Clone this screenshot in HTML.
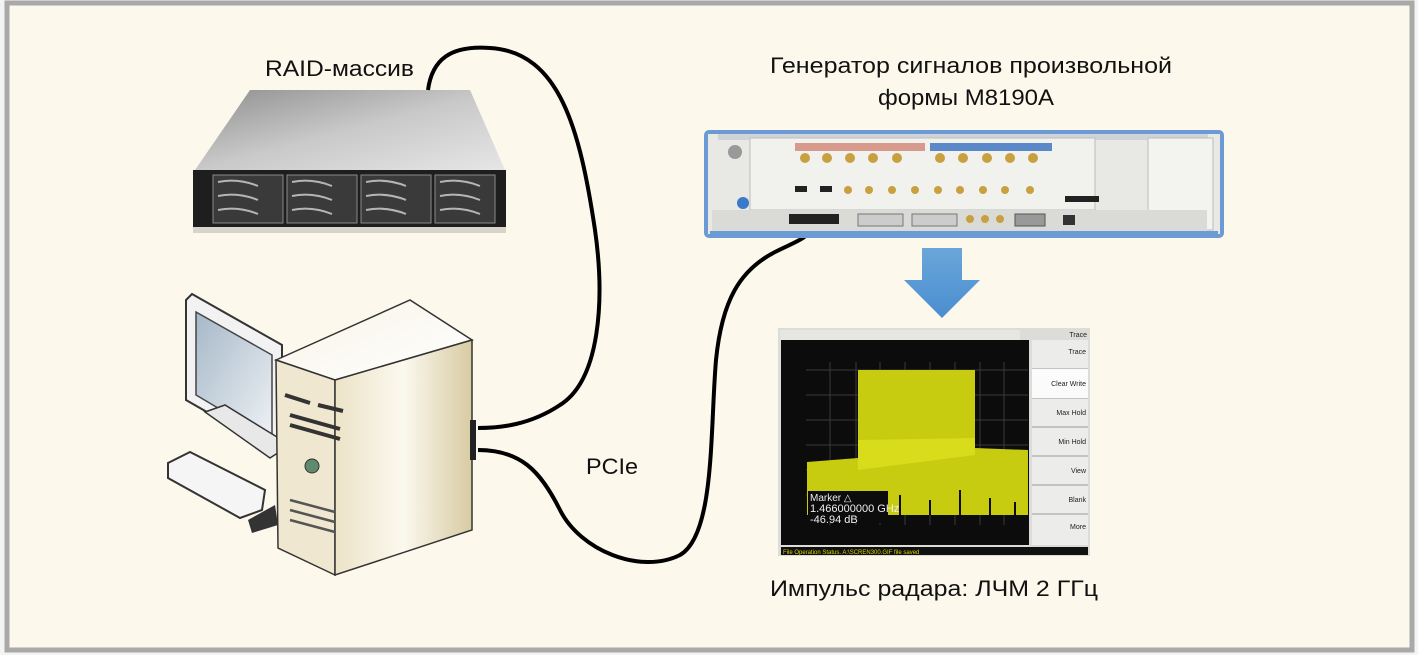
<!DOCTYPE html>
<html><head><meta charset="utf-8"><style>
html,body{margin:0;padding:0;background:#fff;}
svg{display:block;}
text{font-family:"Liberation Sans Narrow","Liberation Sans","DejaVu Sans",sans-serif;}
</style></head><body>
<svg width="1418" height="655" viewBox="0 0 1418 655" xmlns="http://www.w3.org/2000/svg">
<defs>
<linearGradient id="raidTop" x1="0" y1="0" x2="1" y2="1"><stop offset="0" stop-color="#8f8f8f"/><stop offset="0.5" stop-color="#c9c9c9"/><stop offset="1" stop-color="#e6e6e6"/></linearGradient>
<linearGradient id="tower" x1="0" y1="0" x2="1" y2="0"><stop offset="0" stop-color="#ece3c8"/><stop offset="0.5" stop-color="#fbf8ee"/><stop offset="1" stop-color="#d8cba3"/></linearGradient>
<linearGradient id="towerTop" x1="0" y1="0" x2="1" y2="1"><stop offset="0" stop-color="#f7f3e6"/><stop offset="1" stop-color="#ffffff"/></linearGradient>
<linearGradient id="arrow" x1="0" y1="0" x2="0" y2="1"><stop offset="0" stop-color="#6aa6d9"/><stop offset="1" stop-color="#4a8dd0"/></linearGradient>
<linearGradient id="scr" x1="0" y1="0" x2="1" y2="1"><stop offset="0" stop-color="#a6b8c8"/><stop offset="1" stop-color="#eef2f5"/></linearGradient>
</defs>
<rect x="0" y="0" width="1418" height="655" fill="#f4f4f4"/>
<rect x="7" y="3" width="1405" height="647" fill="#fdf8ec" stroke="#a9a9a9" stroke-width="5"/>

<!-- RAID -->
<polygon points="250,90 470,90 505,170 195,170" fill="url(#raidTop)"/>
<rect x="193" y="170" width="313" height="58" fill="#1e1e1e"/>
<rect x="193" y="227" width="313" height="6" fill="#d8d4ca"/>
<g fill="#3a3a3a" stroke="#8a8a8a" stroke-width="1">
<rect x="213" y="175" width="70" height="48"/><rect x="287" y="175" width="70" height="48"/>
<rect x="361" y="175" width="70" height="48"/><rect x="435" y="175" width="60" height="48"/>
</g>
<g stroke="#b5b5b5" stroke-width="2" fill="none">
<path d="M218 182 q20 -4 40 4"/><path d="M218 196 q20 -4 40 4"/><path d="M218 210 q20 -4 40 4"/>
<path d="M292 182 q20 -4 40 4"/><path d="M292 196 q20 -4 40 4"/><path d="M292 210 q20 -4 40 4"/>
<path d="M366 182 q20 -4 40 4"/><path d="M366 196 q20 -4 40 4"/><path d="M366 210 q20 -4 40 4"/>
<path d="M440 182 q20 -4 40 4"/><path d="M440 196 q20 -4 40 4"/><path d="M440 210 q20 -4 40 4"/>
</g>

<!-- cables -->
<path d="M428 90 C432 60 450 45 490 48 C560 52 580 130 595 230 C605 300 600 380 560 405 C530 425 500 428 478 428" fill="none" stroke="#000" stroke-width="4"/>
<path d="M478 450 C520 450 540 470 560 510 C580 550 640 575 680 555 C715 535 710 430 716 360 C722 300 740 270 775 252 C795 242 808 238 812 228" fill="none" stroke="#000" stroke-width="4"/>

<!-- monitor -->
<polygon points="186,300 192,294 282,345 282,455 186,400" fill="#f2f2f2" stroke="#333" stroke-width="2"/>
<polygon points="196,312 272,355 272,440 196,395" fill="url(#scr)" stroke="#444" stroke-width="1.5"/>
<polygon points="205,412 225,405 290,445 270,458" fill="#e8e8e8" stroke="#333" stroke-width="1.5"/>
<polygon points="168,463 190,452 265,490 262,510 240,518 168,478" fill="#f5f5f5" stroke="#333" stroke-width="2"/>
<polygon points="248,520 275,505 278,525 252,533" fill="#333"/>
<!-- tower -->
<polygon points="276,360 410,300 472,340 335,380" fill="url(#towerTop)" stroke="#333" stroke-width="1.5"/>
<polygon points="276,360 335,380 335,575 278,548" fill="#efe7cf" stroke="#333" stroke-width="1.5"/>
<polygon points="335,380 472,340 472,530 335,575" fill="url(#tower)" stroke="#333" stroke-width="1.5"/>
<path d="M285 395 l25 8 M318 405 l25 6 M290 415 l50 14 M290 425 l50 14" stroke="#333" stroke-width="4"/>
<circle cx="312" cy="466" r="7" fill="#5e8a6e" stroke="#333"/>
<path d="M290 500 l45 12 M290 510 l45 12 M290 520 l45 12" stroke="#555" stroke-width="2.5"/>
<rect x="470" y="420" width="6" height="40" fill="#222"/>

<!-- generator -->
<rect x="704" y="130" width="520" height="108" rx="5" fill="#6b9ad4"/>
<rect x="708" y="134" width="512" height="100" fill="#e8e8e4"/>
<rect x="718" y="134" width="490" height="6" fill="#cfd3d8"/>
<rect x="750" y="138" width="345" height="72" fill="#f1f1ed" stroke="#bdbdbd"/>
<rect x="1148" y="138" width="65" height="92" fill="#f3f3ef" stroke="#bbb"/>
<rect x="712" y="210" width="495" height="22" fill="#dadad6"/>
<g fill="#d89a8c"><rect x="795" y="143" width="130" height="8"/></g>
<g fill="#5a88c8"><rect x="930" y="143" width="122" height="8"/></g>
<g fill="#c9a040">
<circle cx="805" cy="158" r="5"/><circle cx="827" cy="158" r="5"/><circle cx="850" cy="158" r="5"/><circle cx="873" cy="158" r="5"/><circle cx="897" cy="158" r="5"/>
<circle cx="940" cy="158" r="5"/><circle cx="963" cy="158" r="5"/><circle cx="987" cy="158" r="5"/><circle cx="1010" cy="158" r="5"/><circle cx="1033" cy="158" r="5"/>
<circle cx="848" cy="190" r="4"/><circle cx="869" cy="190" r="4"/><circle cx="892" cy="190" r="4"/><circle cx="915" cy="190" r="4"/><circle cx="938" cy="190" r="4"/><circle cx="960" cy="190" r="4"/><circle cx="983" cy="190" r="4"/><circle cx="1005" cy="190" r="4"/><circle cx="1030" cy="190" r="4"/>
<circle cx="970" cy="219" r="4"/><circle cx="985" cy="219" r="4"/><circle cx="1000" cy="219" r="4"/>
</g>
<rect x="795" y="186" width="12" height="6" fill="#222"/><rect x="820" y="186" width="12" height="6" fill="#222"/>
<rect x="1065" y="196" width="34" height="6" fill="#222"/>
<rect x="789" y="214" width="50" height="10" fill="#222"/>
<rect x="858" y="214" width="45" height="12" fill="#ccc" stroke="#777"/><rect x="912" y="214" width="45" height="12" fill="#ccc" stroke="#777"/>
<rect x="1015" y="214" width="30" height="12" fill="#999" stroke="#555"/>
<rect x="1063" y="215" width="12" height="10" fill="#333"/>
<circle cx="743" cy="203" r="6" fill="#3a7ac8"/>
<circle cx="735" cy="152" r="7" fill="#999"/>
<rect x="710" y="231" width="508" height="5" fill="#6b9ad4"/>

<!-- blue arrow -->
<polygon points="922,248 962,248 962,280 980,280 942,318 904,280 922,280" fill="url(#arrow)"/>

<!-- spectrum -->
<rect x="778" y="328" width="312" height="228" fill="#dcdcd8"/>
<rect x="780" y="330" width="240" height="10" fill="#e6e6e2"/>
<rect x="781" y="340" width="248" height="205" fill="#0c0c0c"/>
<rect x="1032" y="340" width="56" height="205" fill="#ececea"/>
<g stroke="#9a9a9a" stroke-width="1"><line x1="1032" y1="369" x2="1088" y2="369"/><line x1="1032" y1="398" x2="1088" y2="398"/><line x1="1032" y1="427" x2="1088" y2="427"/><line x1="1032" y1="456" x2="1088" y2="456"/><line x1="1032" y1="485" x2="1088" y2="485"/><line x1="1032" y1="514" x2="1088" y2="514"/></g>
<rect x="1032" y="369" width="56" height="29" fill="#fbfbfb"/>
<g stroke="#3a3a3a" stroke-width="1">
<line x1="806" y1="370" x2="1028" y2="370"/><line x1="806" y1="395" x2="1028" y2="395"/><line x1="806" y1="420" x2="1028" y2="420"/><line x1="806" y1="445" x2="1028" y2="445"/><line x1="806" y1="470" x2="1028" y2="470"/><line x1="806" y1="495" x2="1028" y2="495"/>
<line x1="830" y1="362" x2="830" y2="525"/><line x1="856" y1="362" x2="856" y2="525"/><line x1="880" y1="362" x2="880" y2="525"/><line x1="905" y1="362" x2="905" y2="525"/><line x1="930" y1="362" x2="930" y2="525"/><line x1="955" y1="362" x2="955" y2="525"/><line x1="980" y1="362" x2="980" y2="525"/><line x1="1004" y1="362" x2="1004" y2="525"/>
</g>
<polygon points="807,462 858,458 858,370 975,370 975,448 1028,450 1028,515 807,515" fill="#c8cc10"/>
<polygon points="858,440 975,438 975,455 858,470" fill="#d9dc1a"/>
<g stroke="#0c0c0c" stroke-width="2"><line x1="900" y1="495" x2="900" y2="515"/><line x1="930" y1="500" x2="930" y2="515"/><line x1="960" y1="490" x2="960" y2="515"/><line x1="990" y1="498" x2="990" y2="515"/><line x1="1015" y1="502" x2="1015" y2="515"/></g>
<rect x="808" y="491" width="80" height="32" fill="#0c0c0c"/>
<text x="810" y="501" font-family="Liberation Mono,monospace" font-size="10" fill="#eee">Marker △</text>
<text x="810" y="512" font-family="Liberation Mono,monospace" font-size="11" fill="#eee">1.466000000 GHz</text>
<text x="810" y="523" font-family="Liberation Mono,monospace" font-size="11" fill="#eee">-46.94 dB</text>
<rect x="781" y="547" width="307" height="8" fill="#111"/>
<text x="783" y="554" font-family="Liberation Mono,monospace" font-size="6" fill="#d8d800">File Operation Status. A:\SCREN300.GIF file saved</text>
<g font-family="Liberation Sans,sans-serif" font-size="7" fill="#222" text-anchor="end">
<text x="1087" y="337">Trace</text><text x="1086" y="354">Trace</text><text x="1086" y="386">Clear Write</text><text x="1086" y="415">Max Hold</text><text x="1086" y="444">Min Hold</text><text x="1086" y="473">View</text><text x="1086" y="502">Blank</text><text x="1086" y="529">More</text>
</g>

<!-- labels -->
<text x="265" y="76" font-size="22" fill="#111" textLength="149" lengthAdjust="spacingAndGlyphs">RAID-массив</text>
<text x="770" y="73" font-size="22" fill="#111" textLength="402" lengthAdjust="spacingAndGlyphs">Генератор сигналов произвольной</text>
<text x="878" y="105" font-size="22" fill="#111" textLength="176" lengthAdjust="spacingAndGlyphs">формы M8190A</text>
<text x="586" y="474" font-size="22" fill="#111" textLength="52" lengthAdjust="spacingAndGlyphs">PCIe</text>
<text x="770" y="596" font-size="22" fill="#111" textLength="328" lengthAdjust="spacingAndGlyphs">Импульс радара: ЛЧМ 2 ГГц</text>
</svg>
</body></html>
